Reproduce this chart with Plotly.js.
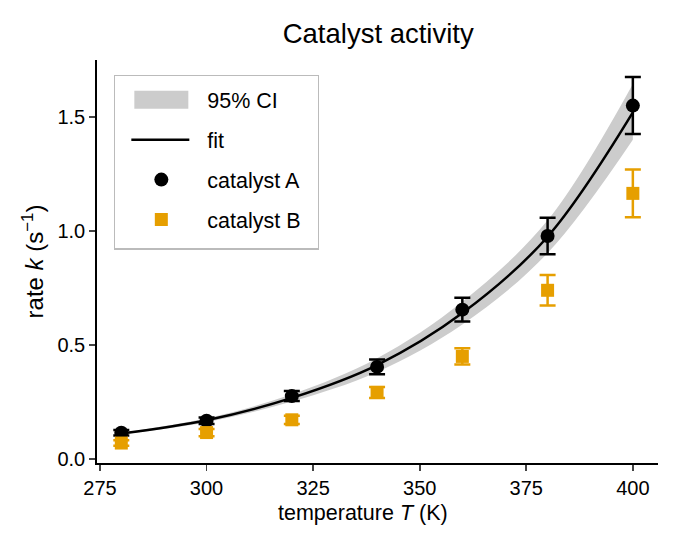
<!DOCTYPE html>
<html><head><meta charset="utf-8">
<script src="https://cdn.plot.ly/plotly-3.0.1.min.js"></script>
<style>body{margin:0;background:#fff}#c{width:694px;height:556px}</style>
</head><body><div id="c"></div>
<script>
const temps = [280, 300, 320, 340, 360, 380, 400];
const rateA = [0.115, 0.168, 0.276, 0.404, 0.655, 0.978, 1.55];
const errA = [0.012, 0.014, 0.022, 0.032, 0.052, 0.08, 0.125];
const rateB = [0.07, 0.116, 0.172, 0.292, 0.45, 0.74, 1.165];
const errB = [0.012, 0.016, 0.018, 0.024, 0.036, 0.067, 0.105];
const fitK = [0.112, 0.17, 0.268, 0.412, 0.64, 0.975, 1.52];
const ciLow = [0.108, 0.161, 0.252, 0.382, 0.59, 0.903, 1.40];
const ciHigh = [0.116, 0.179, 0.284, 0.442, 0.69, 1.047, 1.645];

const F = 'Liberation Sans, Arial, sans-serif';
const traces = [
  {x: temps, y: ciLow, mode: 'lines', line: {width: 0, shape: 'spline', color: 'rgba(0,0,0,0)'}, showlegend: false, hoverinfo: 'skip', legendgroup: 'g0'},
  {x: temps, y: ciHigh, mode: 'lines', fill: 'tonexty', fillcolor: '#cccccc', line: {width: 0, shape: 'spline', color: '#cccccc'}, name: '95% CI', legendgroup: 'g0'},
  {x: temps, y: fitK, mode: 'lines', line: {color: '#000', width: 2.5, shape: 'spline'}, name: 'fit', legendgroup: 'g1'},
  {x: temps, y: rateA, mode: 'markers', name: 'catalyst A', legendgroup: 'g2',
   marker: {symbol: 'circle', size: 14, color: '#000'},
   error_y: {type: 'data', array: errA, visible: true, color: '#000', thickness: 2.5, width: 8}},
  {x: temps, y: rateB, mode: 'markers', name: 'catalyst B', legendgroup: 'g3',
   marker: {symbol: 'square', size: 13, color: '#E69F00'},
   error_y: {type: 'data', array: errB, visible: true, color: '#E69F00', thickness: 2.5, width: 8}}
];
const layout = {
  width: 694, height: 556,
  margin: {l: 97, r: 36, t: 60, b: 93},
  paper_bgcolor: '#fff', plot_bgcolor: '#fff',
  font: {family: F, size: 20, color: '#000'},
  title: {text: 'Catalyst activity', font: {size: 27.5, family: F}, x: 0.545, xanchor: 'center', y: 0.94, yanchor: 'middle'},
  xaxis: {range: [274.3, 405.9], tickvals: [275, 300, 325, 350, 375, 400], ticks: 'outside', ticklen: 6, tickwidth: 1.8,
    showline: true, linewidth: 1.8, linecolor: '#000', showgrid: false, zeroline: false, tickfont: {size: 20}},
  yaxis: {range: [-0.0175, 1.75], tickvals: [0, 0.5, 1, 1.5], ticktext: ['0.0', '0.5', '1.0', '1.5'], ticks: 'outside', ticklen: 6, tickwidth: 1.8,
    showline: true, linewidth: 1.8, linecolor: '#000', showgrid: false, zeroline: false,
    title: {text: 'rate <i>k</i> (s<sup>−1</sup>)', font: {size: 24}, standoff: 7}, tickfont: {size: 20}},
  annotations: [{text: 'temperature <i>T</i> (K)', xref: 'paper', yref: 'paper', x: 0.474, xanchor: 'center',
    y: -0.125, yanchor: 'middle', showarrow: false, font: {size: 21.5}}],
  legend: {x: 0.03, y: 0.956, xanchor: 'left', yanchor: 'top', bgcolor: '#fff', bordercolor: '#bbbbbb', borderwidth: 1.5,
    font: {size: 21.5}, tracegroupgap: 9, itemwidth: 82},
  showlegend: true
};
Plotly.newPlot('c', traces, layout, {displayModeBar: false, staticPlot: true}).then(function () {
  document.querySelectorAll('.legend .legendfill path').forEach(function (p) {
    const bb = p.getBBox();
    if (bb.width > 0) {
      p.setAttribute('d', 'M' + (bb.x + 14) + ',-9h' + (bb.width - 28) + 'v18h-' + (bb.width - 28) + 'z');
    }
  });
  document.querySelectorAll('.legend .legendlines path').forEach(function (p) {
    const bb = p.getBBox();
    if (bb.width > 0) {
      p.setAttribute('d', 'M' + (bb.x + 11) + ',0h58');
    }
  });
  const bg = document.querySelector('.legend rect.bg');
  if (bg) {
    const y = parseFloat(bg.getAttribute('y') || 0);
    const h = parseFloat(bg.getAttribute('height') || 0);
    bg.setAttribute('y', y - 3);
    bg.setAttribute('height', h + 11);
    bg.setAttribute('width', 204);
  }
});
</script></body></html>
